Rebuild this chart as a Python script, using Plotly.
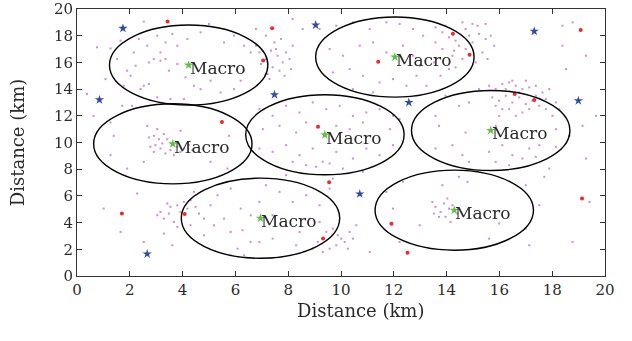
import plotly.graph_objects as go

# Macro base stations (green stars, each with a 3 km coverage circle)
macro_x = [4.23, 12.04, 3.63, 9.39, 15.67, 6.95, 14.29]
macro_y = [15.8, 16.4, 9.9, 10.58, 10.9, 4.33, 4.93]
macro_radius = 3.0

# Small cells (red dots)
pico_x = [3.43, 7.39, 7.05, 5.49, 9.13, 14.24, 11.41, 14.87, 19.08, 16.58, 17.32, 1.70, 4.08, 9.55, 9.32, 11.91, 12.52, 19.13]
pico_y = [19.07, 18.55, 16.15, 11.53, 11.18, 18.15, 16.05, 16.58, 18.43, 13.63, 13.18, 4.68, 4.65, 7.03, 2.8, 3.92, 1.75, 5.8]

# Other stations (blue stars)
femto_x = [1.74, 0.85, 7.48, 9.04, 17.32, 12.57, 18.99, 2.66, 10.71]
femto_y = [18.55, 13.2, 13.58, 18.8, 18.33, 13.0, 13.13, 1.65, 6.15]

# Users (tiny magenta dots)
users_x = [
    2.53, 0.76, 1.27, 1.65, 2.34, 2.66, 3.04, 3.35, 3.61, 3.8, 4.18, 4.68, 5.0, 5.57, 5.95, 6.33, 6.58,
    1.52, 1.9, 2.03, 2.22, 2.53, 2.72, 2.91, 3.16, 3.35, 3.48, 3.8, 4.11, 4.43, 4.68, 5.06, 5.44, 5.95,
    6.2, 6.33, 1.77, 2.41, 2.72, 3.04, 3.54, 4.05, 1.71, 2.09, 1.27, 2.66, 3.04, 3.29, 3.1, 2.91, 3.42,
    3.92, 2.72, 1.39, 5.76, 0.63, 0.38, 1.08, 2.15, 3.16,
    6.78, 6.91, 7.16, 7.35, 7.54, 7.6, 7.79, 7.92, 8.05, 7.41, 7.67, 7.22, 7.86, 8.11, 6.97, 7.48, 7.73,
    7.16, 8.17, 7.29, 9.19, 9.82, 10.45, 11.09, 11.72, 12.22, 12.73, 13.11, 9.57, 10.07, 10.71, 11.21,
    11.72, 12.35, 12.73, 12.98, 9.69, 10.33, 10.83, 11.46, 11.97, 12.48, 12.86, 10.45, 11.21, 13.24,
    6.91, 7.41, 7.92, 8.43, 8.93, 9.44, 9.95, 10.45, 10.96, 11.46, 11.97, 7.04, 7.67, 8.3, 8.68, 9.82,
    10.33, 10.83, 11.85, 12.22, 8.55, 8.17, 6.78,
    13.58, 13.84, 14.09, 14.34, 14.6, 14.72, 14.98, 15.17, 14.85, 15.23, 15.48, 15.67, 14.47, 14.72,
    14.98, 15.36, 15.55, 15.1, 14.6, 14.22, 14.09, 14.34, 13.84, 13.58, 13.77, 13.52, 15.8, 13.96,
    15.48, 14.28,
    15.61, 15.86, 16.11, 16.37, 16.62, 16.87, 17.13, 17.38, 17.63, 17.89, 17.0, 16.49, 15.73, 15.99,
    16.24, 16.49, 16.75, 17.0, 17.25, 17.51, 17.76, 18.01, 16.37, 16.62, 16.87, 17.13, 16.11, 15.86,
    17.38, 18.14, 16.24, 16.75, 15.99, 17.76, 18.27,
    18.39, 18.52, 18.77, 18.39, 19.28, 19.66, 18.14, 19.15, 13.58, 13.71, 14.47, 14.85, 13.96, 15.23,
    14.72, 15.86, 16.24, 18.65,
    2.78, 2.97, 3.16, 3.35, 3.54, 3.8, 3.92, 4.05, 4.24, 4.37, 2.91, 3.67, 3.23, 2.53, 1.27, 1.9, 5.06,
    5.7, 2.28, 3.42, 3.54, 3.16, 3.04, 3.29, 3.67, 3.48, 3.8, 4.05, 4.3, 4.49, 4.18, 3.92, 4.62, 4.81,
    4.43, 3.29, 3.61, 1.65, 3.8, 5.06, 5.32, 5.82, 6.2, 6.58, 5.19, 5.82, 6.27, 6.08, 6.33, 6.58, 5.57,
    4.81, 4.3, 2.53, 1.01,
    6.91, 7.41, 7.92, 8.43, 8.93, 9.31, 9.82, 10.45, 10.96, 11.46, 11.97, 8.68, 9.06, 9.57, 10.07, 8.17,
    7.16, 7.67, 8.17, 8.68, 9.19, 9.57, 7.41, 7.92, 8.43, 8.81, 9.19, 9.44, 9.69, 9.88, 10.01, 10.14,
    10.26, 9.82, 9.57, 9.31, 9.12, 8.93, 10.45, 10.33, 10.58, 8.3, 7.41, 6.91, 11.97, 11.72, 12.35,
    12.98, 12.22, 11.09, 9.69, 10.83, 6.91, 7.92,
    13.58, 14.22, 14.6, 15.61, 16.11, 16.49, 17.13, 17.51, 18.14, 14.85, 15.86, 16.37, 16.87, 17.38,
    17.89, 19.28, 13.46, 13.58, 13.77, 13.9, 14.03, 14.09, 13.96, 13.71, 13.52, 14.22, 14.15, 14.41,
    13.84, 14.47, 14.79, 15.99, 15.61, 17.13, 17.0, 17.51, 17.7, 18.77, 19.41, 17.0,
]
users_y = [
    19.05, 17.13, 17.05, 17.63, 17.75, 17.25, 18.0, 17.5, 18.13, 17.25, 17.75, 18.25, 18.88, 17.5, 18.0, 17.25, 16.75,
    16.25, 15.38, 15.0, 15.75, 14.25, 16.0, 16.25, 16.13, 16.25, 15.38, 15.88, 14.88, 14.25, 14.0, 14.63, 13.75, 14.0,
    14.63, 15.38, 14.25, 14.0, 14.38, 13.38, 13.25, 13.25, 12.75, 12.75, 11.5, 11.25, 11.0, 10.63, 10.25, 10.5, 10.25,
    10.88, 10.38, 10.5, 10.5, 12.0, 13.63, 14.75, 16.75, 16.75,
    17.25, 16.75, 16.25, 16.88, 17.0, 16.5, 16.0, 16.75, 16.25, 15.63, 15.38, 15.13, 15.0, 15.5, 15.88, 17.5, 17.75,
    18.0, 17.25, 14.75, 18.5, 18.75, 19.0, 18.5, 19.0, 18.88, 18.5, 18.0, 17.0, 16.5, 17.25, 17.5,
    16.75, 17.25, 16.5, 15.75, 15.25, 15.5, 15.0, 14.5, 14.75, 14.25, 15.0, 14.0, 13.75, 14.25,
    12.5, 12.0, 12.75, 12.25, 13.0, 12.5, 12.75, 12.0, 12.25, 12.5, 12.0, 11.0, 11.25, 10.75, 11.5, 11.25,
    11.0, 11.5, 11.0, 11.75, 18.5, 19.25, 18.5,
    18.63, 18.25, 17.88, 17.63, 19.0, 18.5, 18.88, 18.75, 18.0, 18.13, 17.75, 18.0, 17.25, 17.0,
    17.5, 16.75, 16.25, 16.0, 16.25, 16.5, 15.5, 15.63, 17.0, 17.5, 15.0, 16.0, 17.25, 18.75,
    18.88, 16.88,
    14.25, 14.0, 14.38, 14.5, 14.25, 14.0, 14.13, 14.25, 13.75, 14.0, 14.63, 14.63, 13.38, 13.13,
    13.5, 13.0, 13.38, 12.88, 13.13, 12.75, 12.5, 12.0, 12.5, 12.0, 12.25, 12.5, 12.5, 12.75,
    13.5, 13.0, 14.0, 13.75, 12.0, 13.25, 12.5,
    17.25, 15.5, 19.0, 18.75, 16.5, 12.0, 11.0, 11.25, 12.0, 11.25, 12.75, 13.0, 13.5, 14.0,
    10.75, 11.25, 10.5, 10.5,
    9.68, 9.8, 9.55, 9.18, 9.43, 9.68, 9.3, 9.55, 9.8, 9.43, 9.3, 9.05, 9.93, 8.55, 9.05, 8.05, 8.55,
    8.05, 6.18, 5.43, 5.18, 4.8, 4.55, 4.3, 4.05, 4.68, 5.3, 5.55, 5.68, 5.18, 5.05, 4.8, 4.68, 4.3,
    6.3, 3.18, 2.3, 3.3, 3.68, 5.3, 6.05, 6.55, 5.05, 4.55, 3.8, 3.3, 3.43, 2.05, 1.55, 2.55, 4.3,
    3.05, 3.8, 2.55, 5.05,
    9.55, 9.3, 9.8, 9.05, 9.55, 8.55, 9.3, 8.8, 9.55, 9.05, 9.8, 8.3, 8.18, 8.43, 8.05, 8.55,
    6.8, 6.3, 5.55, 6.05, 5.3, 6.55, 4.55, 3.8, 3.3, 4.3, 4.05, 3.3, 3.55, 3.05, 2.8, 2.55,
    2.05, 2.3, 2.05, 1.8, 2.55, 2.05, 2.8, 3.3, 3.8, 2.3, 2.8, 2.55, 5.05, 6.3, 7.05,
    3.8, 2.55, 1.8, 7.3, 7.8, 5.55, 7.55,
    9.55, 9.8, 9.05, 9.3, 9.8, 9.05, 9.55, 9.8, 9.68, 8.55, 8.55, 8.3, 8.8, 8.93,
    8.05, 8.8, 5.55, 5.18, 4.8, 5.43, 5.8, 5.05, 4.43, 4.43, 4.68, 5.3, 4.05, 4.68,
    6.8, 7.43, 7.05, 3.93, 2.8, 2.3, 6.8, 5.3, 7.43, 2.55, 5.55, 3.55,
]

FONT = "DejaVu Serif"
INK = "#2a2a2a"

fig = go.Figure()

fig.add_trace(go.Scatter(
    x=users_x, y=users_y, mode="markers",
    marker=dict(symbol="square", size=2, color="#c27ac6", line=dict(width=0)),
    opacity=0.85, hoverinfo="skip",
))
fig.add_trace(go.Scatter(
    x=pico_x, y=pico_y, mode="markers",
    marker=dict(symbol="circle", size=4, color="#f02828", line=dict(width=0)),
))
fig.add_trace(go.Scatter(
    x=femto_x, y=femto_y, mode="markers",
    marker=dict(symbol="star", size=7, color="#2f4ea3", line=dict(width=0)),
))
fig.add_trace(go.Scatter(
    x=macro_x, y=macro_y, mode="markers",
    marker=dict(symbol="star", size=7, color="#62c046", line=dict(width=0)),
))

for cx, cy in zip(macro_x, macro_y):
    fig.add_shape(
        type="circle", xref="x", yref="y",
        x0=cx - macro_radius, x1=cx + macro_radius,
        y0=cy - macro_radius, y1=cy + macro_radius,
        line=dict(color="black", width=1.4), fillcolor="rgba(0,0,0,0)",
    )
    fig.add_annotation(
        x=cx, y=cy, xref="x", yref="y", text="Macro", showarrow=False,
        xanchor="left", yanchor="middle", xshift=-1, yshift=-3,
        font=dict(family=FONT, size=17, color=INK),
    )

# x-axis title placed as an annotation for exact positioning
fig.add_annotation(
    x=0.5, y=0, xref="paper", yref="paper", text="Distance (km)", showarrow=False,
    xanchor="center", yanchor="middle", xshift=19, yshift=-34,
    font=dict(family=FONT, size=18, color=INK),
)

axis_common = dict(
    showgrid=False, zeroline=False, showline=True, linecolor="#333333", linewidth=1,
    mirror="ticks", ticks="inside", ticklen=5, tickcolor="#333333", dtick=2,
    tickfont=dict(family=FONT, size=15, color=INK), automargin=False,
    ticklabelstandoff=0, ticklabeloverflow="allow",
)

fig.update_layout(
    width=632, height=341,
    margin=dict(l=77, r=27, t=9, b=65),
    paper_bgcolor="white", plot_bgcolor="white",
    showlegend=False,
    xaxis=dict(range=[0, 20], **axis_common),
    yaxis=dict(range=[0, 20], title=dict(text="Distance (km)", font=dict(family=FONT, size=18, color=INK), standoff=24), **axis_common),
)

fig.write_html("out.html", config={"displayModeBar": False},
               post_script="document.body.style.margin='0';")
